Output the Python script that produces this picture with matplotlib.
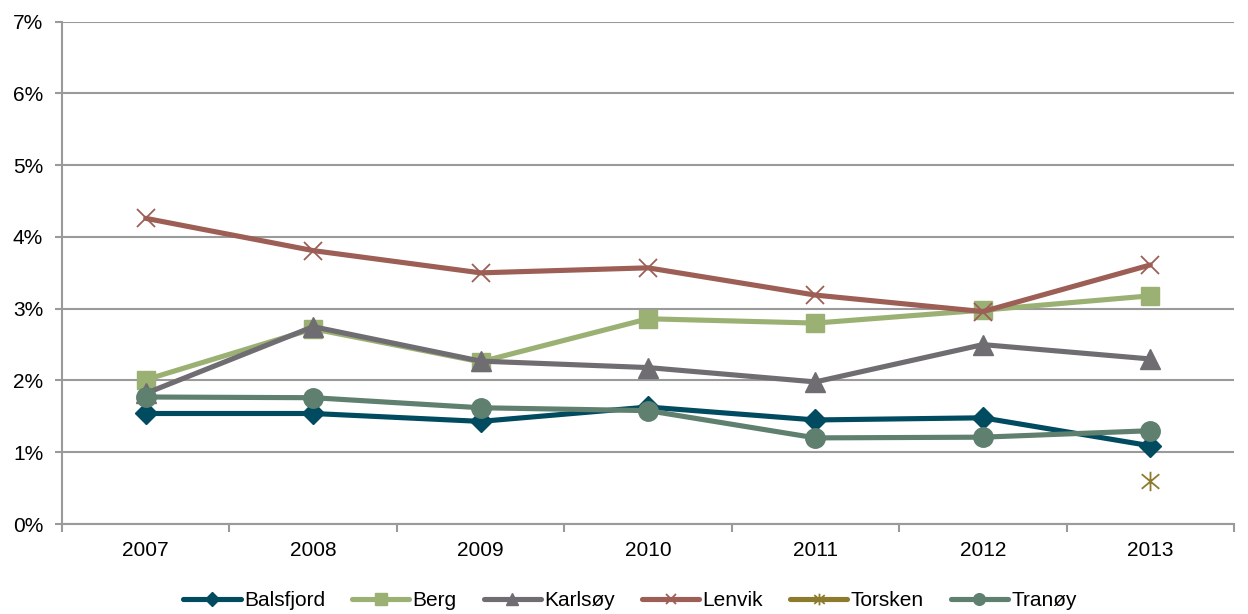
import matplotlib
matplotlib.use("Agg")
import matplotlib.pyplot as plt
from matplotlib.ticker import FixedLocator, FuncFormatter
from matplotlib.path import Path
import numpy as np

plt.rcParams['font.family'] = ['Liberation Sans', 'DejaVu Sans']

years = ["2007", "2008", "2009", "2010", "2011", "2012", "2013"]
balsfjord = [1.54, 1.54, 1.43, 1.63, 1.45, 1.48, 1.09]
berg = [2.01, 2.72, 2.26, 2.86, 2.80, 2.98, 3.18]
karlsoy = [1.82, 2.75, 2.27, 2.18, 1.98, 2.50, 2.30]
lenvik = [4.26, 3.81, 3.50, 3.57, 3.19, 2.96, 3.61]
torsken = [np.nan, np.nan, np.nan, np.nan, np.nan, np.nan, 0.60]
tranoy = [1.77, 1.76, 1.62, 1.58, 1.20, 1.21, 1.30]

# asterisk marker: vertical bar plus an X
star = Path([(0, -1), (0, 1), (-0.9, -0.75), (0.9, 0.75), (-0.9, 0.75), (0.9, -0.75)],
            [Path.MOVETO, Path.LINETO, Path.MOVETO, Path.LINETO, Path.MOVETO, Path.LINETO])

series = [
    ("Balsfjord", balsfjord, "#004B60", "D", 11.5, None),
    ("Berg", berg, "#9BB174", "s", 13.5, None),
    ("Karlsøy", karlsoy, "#6F6D72", "^", 14, None),
    ("Lenvik", lenvik, "#9C5E55", "x", 13, 1.3),
    ("Torsken", torsken, "#8D7B2D", star, 14, 1.3),
    ("Tranøy", tranoy, "#5F7F6F", "o", 14, None),
]

fig = plt.figure(figsize=(12.48, 6.14), dpi=100)
ax = fig.add_axes([62/1248, 1-524/614, (1234-62)/1248, (524-21.7)/614])

x = np.arange(len(years))
for name, vals, color, marker, ms, mew in series:
    kw = dict(color=color, linewidth=3.7, marker=marker, markersize=ms,
              markerfacecolor=color, markeredgecolor=color, label=name,
              solid_capstyle='round', solid_joinstyle='round')
    if mew is not None:
        kw['markeredgewidth'] = mew
    ax.plot(x, vals, **kw)

ax.set_xlim(-0.5, len(years) - 0.5)
ax.set_ylim(0, 7)
ax.set_yticks(np.arange(0, 8, 1))
ax.yaxis.set_major_formatter(FuncFormatter(lambda v, p: f"{int(round(v))}%"))
ax.set_xticks(x)
ax.set_xticklabels(years)
ax.xaxis.set_minor_locator(FixedLocator(np.arange(-0.5, len(years), 1)))

grid_c = "#9A9A9A"
ax.grid(axis='y', color=grid_c, linewidth=1.5)
ax.set_axisbelow(True)
for s in ['top', 'right']:
    ax.spines[s].set_visible(False)
for s in ['left', 'bottom']:
    ax.spines[s].set_color(grid_c)
    ax.spines[s].set_linewidth(1.5)

ax.tick_params(axis='y', length=5, width=1.5, color=grid_c, labelsize=15, pad=8.5)
ax.tick_params(axis='x', which='major', length=0, labelsize=15, pad=12)
ax.tick_params(axis='x', which='minor', length=6, width=1.5, color=grid_c)

leg = ax.legend(loc='center', bbox_to_anchor=(0.4846, -0.152), ncol=6, frameon=False,
                fontsize=15, handlelength=2.75, handletextpad=0.15, columnspacing=1.3,
                markerscale=0.6)

fig.savefig("out.png", dpi=100)
